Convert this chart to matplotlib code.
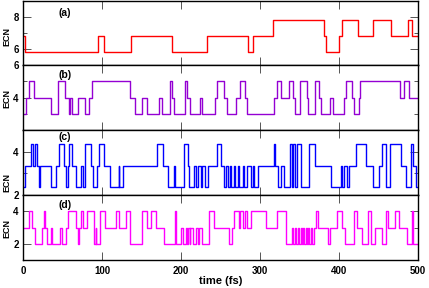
import matplotlib
matplotlib.use("Agg")
import matplotlib.pyplot as plt
from matplotlib.ticker import MultipleLocator, FixedLocator

plt.rcParams['font.family'] = ['Liberation Sans', 'DejaVu Sans']
plt.rcParams['font.weight'] = 'bold'

# ---------------- data (change times in fs, ECN level held until next time) ----
a_t = [0, 3, 95, 103, 137, 188, 233, 285, 291, 316, 381, 384, 400, 404, 424, 443, 466, 487, 493, 500]
a_v = [6.8, 5.8, 6.8, 5.8, 6.8, 5.8, 6.8, 5.8, 6.8, 7.8, 6.8, 5.8, 6.8, 7.8, 6.8, 7.8, 6.8, 7.8, 6.8, 6.8]

b_t = [0, 4, 8, 14, 36, 44, 53, 58, 60, 62, 70, 79, 84, 87, 136, 142, 150, 157, 172, 176,
       186, 189, 191, 205, 207, 212, 224, 226, 243, 246, 255, 258, 269, 275, 281, 283, 318, 321, 326, 337,
       342, 344, 350, 359, 361, 370, 375, 377, 388, 392, 406, 409, 417, 419, 425, 427, 477, 482, 489, 500]
b_v = [3, 4, 5, 4, 3, 5, 4, 3, 4, 3, 4, 3, 4, 5, 4, 3, 4, 3, 4, 3,
       5, 4, 3, 5, 4, 3, 4, 3, 4, 5, 4, 3, 4, 5, 4, 3, 4, 5, 4, 5,
       4, 3, 5, 4, 3, 5, 4, 3, 4, 3, 4, 5, 4, 3, 4, 5, 4, 5, 4, 4]

c_t = [0, 3, 10, 13, 15, 18, 20, 22, 36, 42, 46, 52, 54, 57, 58, 62, 67, 73, 76, 79,
       86, 88, 94, 96, 103, 110, 121, 122, 127, 170, 177, 184, 191, 193, 204, 209, 210, 216, 219, 222,
       225, 227, 231, 234, 245, 250, 254, 257, 259, 262, 263, 267, 268, 272, 274, 278, 280, 283, 288, 291,
       293, 297, 318, 319, 323, 327, 331, 338, 340, 342, 344, 347, 352, 362, 369, 390, 402, 404, 406, 410,
       413, 422, 434, 443, 451, 455, 460, 464, 479, 485, 491, 494, 497, 500]
c_v = [2.35, 3.35, 4.35, 3.35, 4.35, 3.35, 2.35, 3.35, 2.35, 3.35, 4.35, 3.35, 2.35, 3.35, 4.35, 3.35, 2.35, 3.35, 2.35, 4.35,
       3.35, 2.35, 3.35, 4.35, 3.35, 2.35, 3.35, 2.35, 3.35, 4.35, 3.35, 2.35, 3.35, 2.35, 4.35, 3.35, 2.35, 3.35, 2.35, 3.35,
       2.35, 3.35, 2.35, 3.35, 4.35, 3.35, 2.35, 3.35, 2.35, 3.35, 2.35, 3.35, 2.35, 3.35, 2.35, 3.35, 2.35, 3.35, 2.35, 3.35,
       2.35, 3.35, 4.35, 3.35, 2.35, 3.35, 2.35, 4.35, 2.35, 4.35, 2.35, 4.35, 2.35, 4.35, 3.35, 2.35, 3.35, 2.35, 3.35, 2.35,
       3.35, 4.35, 3.35, 2.35, 3.35, 4.35, 2.35, 4.35, 3.35, 2.35, 4.35, 3.35, 2.35, 2.35]

d_t = [0, 8, 11, 15, 24, 26, 28, 30, 35, 37, 47, 49, 54, 57, 67, 70, 71, 73, 76, 81,
       90, 92, 93, 97, 104, 118, 121, 131, 136, 151, 157, 162, 168, 178, 192, 194, 200, 203, 206, 208,
       209, 211, 212, 215, 219, 222, 223, 226, 235, 242, 261, 265, 267, 273, 275, 279, 281, 284, 288, 307,
       322, 333, 341, 342, 344, 346, 348, 349, 352, 353, 355, 356, 358, 359, 361, 362, 364, 366, 368, 371,
       374, 377, 386, 388, 397, 404, 407, 419, 423, 429, 437, 441, 445, 455, 459, 462, 471, 476, 486, 492,
       494, 500]
d_v = [3, 4, 3, 2, 3, 4, 3, 2, 3, 2, 3, 2, 3, 4, 3, 2, 3, 4, 3, 4,
       2, 3, 2, 4, 3, 4, 3, 4, 2, 4, 3, 4, 3, 2, 4, 2, 3, 2, 3, 2,
       3, 2, 3, 2, 3, 2, 3, 2, 4, 3, 2, 3, 4, 3, 4, 3, 4, 3, 4, 3,
       4, 2, 3, 2, 3, 2, 3, 2, 3, 2, 3, 2, 3, 2, 3, 2, 3, 2, 3, 4,
       3, 3, 2, 3, 4, 3, 2, 4, 3, 2, 4, 2, 3, 2, 4, 3, 4, 3, 2, 4,
       2, 2]

panel_labels = ['(a)', '(b)', '(c)', '(d)']
colors = ['#ff0000', '#9400d3', '#0000ff', '#ff00ff']
ylims = [(5, 9), (2, 6), (2, 5), (1, 5)]
yticks = [[6, 8], [4, 6], [2, 4], [2, 4]]
xticks = [0, 100, 200, 300, 400, 500]
ecn_y_px = [36, 98, 182, 228]
label_y = [0.82, 0.85, 0.9, 0.85]

series = [(a_t, a_v), (b_t, b_v), (c_t, c_v), (d_t, d_v)]

W, H = 429, 288
fig = plt.figure(figsize=(W / 100, H / 100), dpi=100)

left_px, right_px = 23, 418
edges_px = [1, 65, 130, 195, 260]

axes = []
for i in range(4):
    top = edges_px[i]
    bot = edges_px[i + 1]
    ax = fig.add_axes([left_px / W, 1 - bot / H, (right_px - left_px) / W, (bot - top) / H])
    t, v = series[i]
    ax.plot(t, v, drawstyle='steps-post', color=colors[i], lw=1.0)
    ax.set_xlim(0, 500)
    ax.set_ylim(*ylims[i])
    ax.yaxis.set_major_locator(FixedLocator(yticks[i]))
    ax.yaxis.set_minor_locator(MultipleLocator(1))
    ax.xaxis.set_major_locator(FixedLocator(xticks))
    ax.tick_params(axis='both', which='major', direction='in', length=5.5, width=0.7,
                   color='#555555', top=True, right=True, labelsize=7, pad=3)
    ax.tick_params(axis='y', which='minor', direction='in', length=3, width=0.7,
                   color='#555555', right=True)
    ax.tick_params(axis='x', pad=4.5)
    for lab in ax.get_yticklabels() + ax.get_xticklabels():
        lab.set_fontweight('bold')
    if i < 3:
        ax.tick_params(axis='x', labelbottom=False)
    for sp in ax.spines.values():
        sp.set_linewidth(1.0)
        sp.set_color('black')
    ax.text(0.106, label_y[i], panel_labels[i], transform=ax.transAxes, fontsize=7.5,
            fontweight='bold', ha='center', va='center')
    fig.text(7 / W, 1 - ecn_y_px[i] / H, 'ECN', rotation=90, fontsize=6.5,
             fontweight='bold', ha='center', va='center')
    axes.append(ax)

fig.text((left_px + right_px) / 2 / W, 1 - 281 / H, 'time (fs)', fontsize=8,
         fontweight='bold', ha='center', va='center')

fig.savefig('out.png', dpi=100)
